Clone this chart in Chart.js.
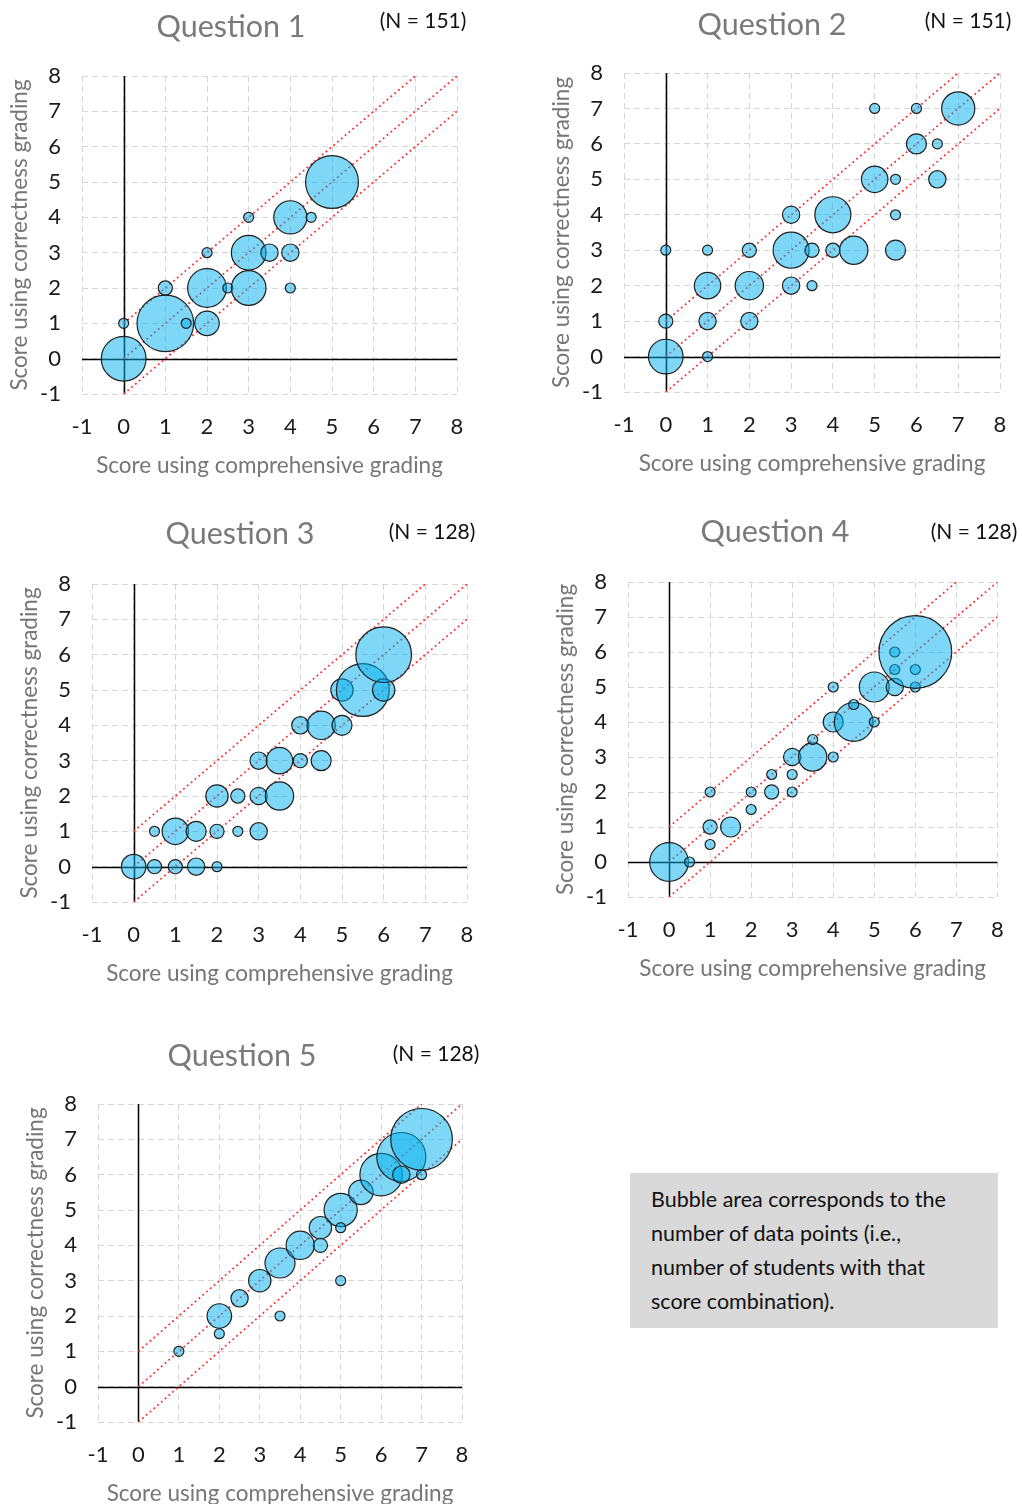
<!DOCTYPE html>
<html>
<head>
<meta charset="utf-8">
<title>Correctness vs comprehensive grading</title>
<script src="https://cdn.jsdelivr.net/npm/chart.js@4.4.1/dist/chart.umd.min.js"></script>
<style>
  html, body { margin: 0; padding: 0; background: #fff; }
  body { position: relative; width: 1023px; height: 1504px; overflow: hidden; font-family: Lato, "Open Sans", sans-serif; }
  canvas { position: absolute; }
  .qtitle { position: absolute; transform: translate(-50%, -50%); font-size: 30.5px; color: #7a7a7a; white-space: nowrap; }
  .ncount { position: absolute; transform: translate(-50%, -50%); font-size: 21px; color: #111; white-space: nowrap; }
  .note {
    position: absolute; left: 630px; top: 1173px; width: 368px; height: 155px;
    box-sizing: border-box; padding: 9px 0 0 21px; background: #d9d9d9;
    font-size: 21.5px; line-height: 34px; color: #111;
  }
</style>
</head>
<body>

<div class="note">Bubble area corresponds to the<br>number of data points (i.e.,<br>number of students with that<br>score combination).</div>

<script>
// scores: x = comprehensive grading, y = correctness grading, n = number of students
const q1X = [0, 0, 1, 1, 1.5, 2, 2, 2, 2.5, 3, 3, 3, 3.5, 4, 4, 4, 4.5, 5];
const q1Y = [0, 1, 1, 2, 1, 1, 2, 3, 2, 2, 3, 4, 3, 3, 2, 4, 4, 5];
const q1N = [20, 1, 32, 2, 1, 6, 15, 1, 1, 12, 12, 1, 3, 3, 1, 11, 1, 28];

const q2X = [0, 0, 0, 1, 1, 1, 1, 2, 2, 2, 3, 3, 3, 3.5, 3.5, 4, 4, 4.5, 5, 5, 5.5, 5.5, 5.5, 6, 6, 6.5, 6.5, 7];
const q2Y = [0, 1, 3, 0, 1, 2, 3, 1, 2, 3, 2, 3, 4, 2, 3, 3, 4, 3, 5, 7, 5, 4, 3, 6, 7, 6, 5, 7];
const q2N = [12, 2, 1, 1, 3, 7, 1, 3, 8, 2, 3, 13, 3, 1, 2, 2, 13, 8, 7, 1, 1, 1, 4, 4, 1, 1, 3, 11];

const q3X = [0, 0.5, 1, 1.5, 2, 0.5, 1, 1.5, 2, 2.5, 3, 2, 2.5, 3, 3.5, 3, 3.5, 4, 4.5, 4, 4.5, 5, 5, 5.5, 6, 6];
const q3Y = [0, 0, 0, 0, 0, 1, 1, 1, 1, 1, 1, 2, 2, 2, 2, 3, 3, 3, 3, 4, 4, 4, 5, 5, 5, 6];
const q3N = [6, 2, 2, 3, 1, 1, 7, 4, 2, 1, 3, 5, 2, 3, 8, 3, 7, 2, 4, 3, 8, 4, 5, 28, 5, 31];

const q4X = [0, 0.5, 1, 1, 1, 1.5, 2, 2, 2.5, 2.5, 3, 3, 3, 3.5, 3.5, 4, 4, 4, 4.5, 4.5, 5, 5, 5.5, 5.5, 5.5, 6, 6, 6];
const q4Y = [0, 0, 0.5, 1, 2, 1, 1.5, 2, 2, 2.5, 2, 2.5, 3, 3, 3.5, 3, 4, 5, 4, 4.5, 4, 5, 5, 5.5, 6, 5, 5.5, 6];
const q4N = [15, 1, 1, 2, 1, 4, 1, 1, 2, 1, 1, 1, 3, 8, 1, 1, 4, 1, 15, 1, 1, 9, 3, 1, 1, 1, 1, 53];

const q5X = [1, 2, 2, 2.5, 3, 3.5, 3.5, 4, 4.5, 4.5, 5, 5, 5, 5.5, 6, 6.5, 6.5, 7, 7];
const q5Y = [1, 1.5, 2, 2.5, 3, 3.5, 2, 4, 4.5, 4, 5, 4.5, 3, 5.5, 6, 6.5, 6, 6, 7];
const q5N = [1, 1, 6, 3, 5, 9, 1, 8, 5, 2, 11, 1, 1, 6, 18, 24, 3, 1, 38];

const questionTitles = ['Question 1', 'Question 2', 'Question 3', 'Question 4', 'Question 5'];
const sampleSizes = [151, 151, 128, 128, 128];
const axisMin = -1;
const axisMax = 8;
const diagonalOffsets = [1, 0, -1];

// plot area placement in the page (px)
const panels = [
    { L: 82,  R: 457,  T: 76,   B: 394,  tx: 231, ty: 25,   nx: 423, ny: 19 },
    { L: 624, R: 1000, T: 73,   B: 392,  tx: 772, ty: 23,   nx: 968, ny: 19 },
    { L: 92,  R: 467,  T: 584,  B: 902,  tx: 240, ty: 532,  nx: 432, ny: 530 },
    { L: 628, R: 999,  T: 582,  B: 897,  tx: 775, ty: 530,  nx: 974, ny: 530 },
    { L: 98,  R: 462,  T: 1104, B: 1422, tx: 242, ty: 1054, nx: 436, ny: 1052 }
];
const series = [[q1X, q1Y, q1N], [q2X, q2Y, q2N], [q3X, q3Y, q3N], [q4X, q4Y, q4N], [q5X, q5Y, q5N]];

const bubblePx = 5;   // radius of a one-student bubble
// padTop / padRight must exceed the tick-label overhang chart.js reserves
const yAxisW = 82, xAxisH = 90, padTop = 42, padRight = 36;

Chart.defaults.font.family = 'Lato, "Open Sans", sans-serif';

// black axis lines through zero, drawn under the bubbles
const zeroAxes = {
    id: 'zeroAxes',
    beforeDatasetsDraw(chart) {
        const { ctx, chartArea, scales } = chart;
        const x0 = Math.round(scales.x.getPixelForValue(0)) + 0.5;
        const y0 = Math.round(scales.y.getPixelForValue(0)) + 0.5;
        ctx.save();
        ctx.strokeStyle = '#000';
        ctx.lineWidth = 1.5;
        ctx.beginPath();
        ctx.moveTo(x0, chartArea.top);
        ctx.lineTo(x0, chartArea.bottom);
        ctx.moveTo(chartArea.left, y0);
        ctx.lineTo(chartArea.right, y0);
        ctx.stroke();
        ctx.restore();
    }
};

function axisOptions(titleText, isX) {
    return {
        type: 'linear',
        min: axisMin,
        max: axisMax,
        ticks: {
            stepSize: 1,
            autoSkip: false,
            maxRotation: 0,
            padding: isX ? 20 : 21,
            color: '#1a1a1a',
            font: { size: 22 }
        },
        grid: { color: '#d6d6d6', lineWidth: 1, drawTicks: false },
        border: { display: false, dash: [6, 4] },
        title: {
            display: true,
            text: titleText,
            color: '#767676',
            font: { size: 22.5 },
            padding: isX ? { top: 0, bottom: 5 } : { top: 6, bottom: 0 }
        },
        afterFit: function (scale) {
            if (isX) scale.height = xAxisH;
            else scale.width = yAxisW;
        }
    };
}

panels.forEach(function (p, i) {
    const canvas = document.createElement('canvas');
    const w = p.R - p.L + yAxisW + padRight;
    const h = p.B - p.T + padTop + xAxisH;
    canvas.width = w;
    canvas.height = h;
    canvas.style.left = (p.L - yAxisW) + 'px';
    canvas.style.top = (p.T - padTop) + 'px';
    canvas.style.width = w + 'px';
    canvas.style.height = h + 'px';
    document.body.appendChild(canvas);

    const title = document.createElement('div');
    title.className = 'qtitle';
    title.style.left = p.tx + 'px';
    title.style.top = p.ty + 'px';
    title.textContent = questionTitles[i];
    document.body.appendChild(title);

    const nLabel = document.createElement('div');
    nLabel.className = 'ncount';
    nLabel.style.left = p.nx + 'px';
    nLabel.style.top = p.ny + 'px';
    nLabel.textContent = '(N = ' + sampleSizes[i] + ')';
    document.body.appendChild(nLabel);

    const xs = series[i][0], ys = series[i][1], ns = series[i][2];
    const bubbles = xs.map(function (x, j) {
        return { x: x, y: ys[j], r: bubblePx * Math.sqrt(ns[j]) };
    });

    const diagonals = diagonalOffsets.map(function (o) {
        const xEnd = axisMax - Math.max(o, 0);
        return {
            type: 'line',
            data: [{ x: 0, y: o }, { x: xEnd, y: xEnd + o }],
            borderColor: '#ff3030',
            borderWidth: 1.8,
            borderDash: [1.8, 3.2],
            pointRadius: 0,
            fill: false,
            order: 2
        };
    });

    new Chart(canvas, {
        type: 'bubble',
        data: {
            datasets: [{
                data: bubbles,
                backgroundColor: 'rgba(0, 176, 240, 0.5)',
                borderColor: '#202020',
                borderWidth: 1.2,
                order: 0
            }].concat(diagonals)
        },
        options: {
            responsive: false,
            animation: false,
            layout: { padding: { left: 0, top: padTop, right: padRight, bottom: 0 } },
            plugins: { legend: { display: false }, tooltip: { enabled: false } },
            scales: {
                x: axisOptions('Score using comprehensive grading', true),
                y: axisOptions('Score using correctness grading', false)
            }
        },
        plugins: [zeroAxes]
    });
});
</script>
</body>
</html>
